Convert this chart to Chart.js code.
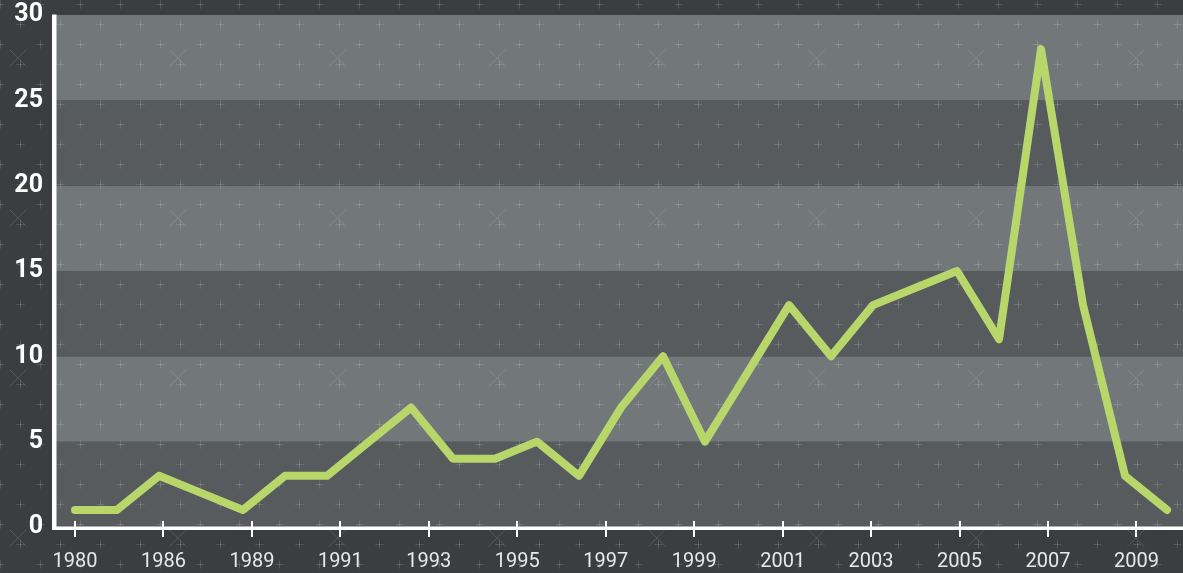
<!DOCTYPE html>
<html>
<head>
<meta charset="utf-8">
<script src="https://cdn.jsdelivr.net/npm/chart.js@4"></script>
<style>
html,body{margin:0;padding:0;background:#3a3e41;overflow:hidden}
#wrap{width:1183px;height:573px;position:relative}
</style>
</head>
<body>
<div id="wrap"><canvas id="c"></canvas></div>
<script>
// Data
const pointIndex = [0,1,2,3,4,5,6,7,8,9,10,11,12,13,14,15,16,17,18,19,20,21,22,23,24,25,26];
const values = [1,1,3,2,1,3,3,5,7,4,4,5,3,7,10,5,9,13,10,13,14,15,11,28,13,3,1];
const tickLabels = ['1980','1986','1989','1991','1993','1995','1997','1999','2001','2003','2005','2007','2009'];
const yTickStep = 5;
const yMin = 0, yMax = 30;
const xTickStep = 2.106;

const COLORS = {
  bg: '#3a3e41',
  bandLight: '#72777a',
  bandDark: '#575b5e',
  line: '#b9d66b',
  axis: '#ffffff',
  pattern: 'rgba(255,255,255,0.14)',
  cross: 'rgba(255,255,255,0.13)'
};

const backdrop = {
  id: 'backdrop',
  beforeDraw(chart) {
    const {ctx, chartArea: a, scales: {y}} = chart;
    const W = chart.width, H = chart.height;
    ctx.save();
    ctx.fillStyle = COLORS.bg;
    ctx.fillRect(0, 0, W, H);
    for (let v = yMin, k = 0; v < yMax; v += yTickStep, k++) {
      const yt = y.getPixelForValue(v + yTickStep);
      const yb = y.getPixelForValue(v);
      ctx.fillStyle = (k % 2 === 0) ? COLORS.bandDark : COLORS.bandLight;
      ctx.fillRect(a.left, yt, a.right - a.left, yb - yt);
    }
    ctx.strokeStyle = COLORS.pattern;
    ctx.lineWidth = 1;
    ctx.beginPath();
    for (let r = 0; r < 30; r++) {
      const py = Math.round(3.5 + 20 * r) + 0.5;
      const off = (r % 2) ? 20 : 0;
      for (let k = 0; k < 32; k++) {
        const px = Math.round(off + 39.9 * k) + 0.5;
        ctx.moveTo(px - 4, py); ctx.lineTo(px + 4, py);
        ctx.moveTo(px, py - 4); ctx.lineTo(px, py + 4);
      }
    }
    ctx.stroke();
    ctx.strokeStyle = COLORS.cross;
    ctx.beginPath();
    for (let j = 0; j < 4; j++) {
      const cy = 58 + 160 * j;
      for (let i = 0; i < 8; i++) {
        const cx = 18 + 159.7 * i;
        ctx.moveTo(cx - 8.5, cy - 8.5); ctx.lineTo(cx + 8.5, cy + 8.5);
        ctx.moveTo(cx + 8.5, cy - 8.5); ctx.lineTo(cx - 8.5, cy + 8.5);
      }
    }
    ctx.stroke();
    ctx.restore();
  },
  beforeDatasetsDraw(chart) {
    const {ctx, chartArea: a, scales: {x}} = chart;
    ctx.save();
    ctx.fillStyle = COLORS.axis;
    ctx.fillRect(a.left - 2, a.top - 0.5, 4.5, a.bottom - a.top + 3.5);
    ctx.fillRect(a.left - 2, a.bottom - 0.5, chart.width - a.left + 2, 3.5);
    x.ticks.forEach(t => {
      const px = x.getPixelForValue(t.value);
      ctx.fillRect(Math.round(px) - 1, a.bottom - 6, 2, 16);
    });
    ctx.restore();
  }
};

new Chart(document.getElementById('c'), {
  type: 'line',
  data: {
    datasets: [{
      data: pointIndex.map((xv, i) => ({x: xv, y: values[i]})),
      borderColor: COLORS.line,
      borderWidth: 8,
      borderCapStyle: 'round',
      borderJoinStyle: 'round',
      pointRadius: 0,
      pointHoverRadius: 0,
      tension: 0,
      fill: false
    }]
  },
  options: {
    responsive: true,
    maintainAspectRatio: false,
    animation: false,
    layout: {padding: {top: 15, right: 0, left: 0, bottom: 0}},
    plugins: {legend: {display: false}, tooltip: {enabled: false}},
    scales: {
      x: {
        type: 'linear',
        min: -0.5,
        max: 26.38,
        bounds: 'data',
        grid: {display: false, drawTicks: false},
        border: {display: false},
        afterBuildTicks: (s) => { s.ticks = tickLabels.map((_, i) => ({value: i * xTickStep})); },
        afterFit: (s) => { s.height = 46; s.paddingLeft = 0; s.paddingRight = 0; },
        ticks: {
          autoSkip: false,
          maxRotation: 0,
          padding: 23,
          color: '#e8e8e8',
          font: {family: 'Roboto', weight: '400', size: 20},
          callback: (v, i) => tickLabels[i]
        }
      },
      y: {
        min: yMin,
        max: yMax,
        grid: {display: false, drawTicks: false},
        border: {display: false},
        afterFit: (s) => { s.width = 54; s.paddingTop = 0; s.paddingBottom = 0; },
        ticks: {
          stepSize: yTickStep,
          padding: 11,
          color: '#ffffff',
          font: {family: 'Roboto', weight: 'bold', size: 25}
        }
      }
    }
  },
  plugins: [backdrop]
});
</script>
</body>
</html>
